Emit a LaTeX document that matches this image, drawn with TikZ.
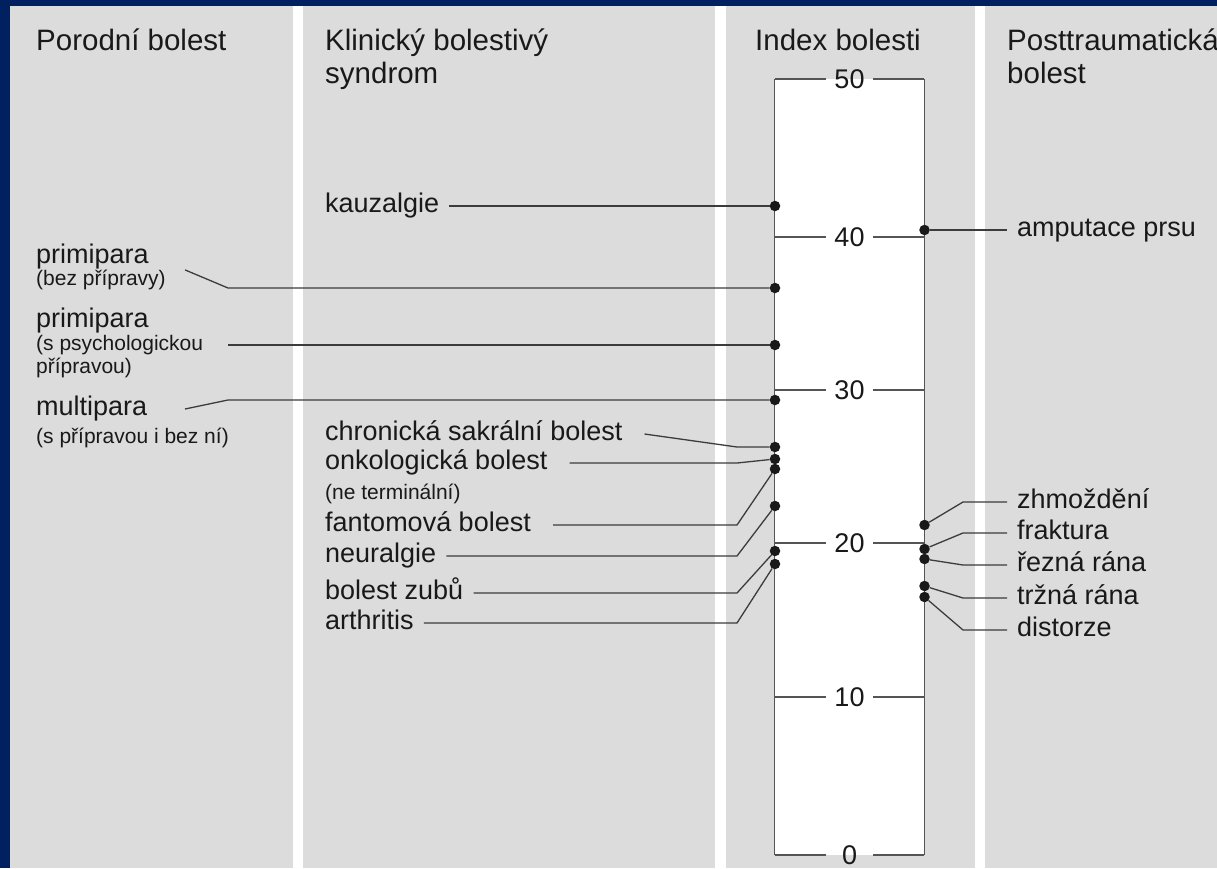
\documentclass[tikz,border=0pt]{standalone}
\usepackage{fontspec}
\setmainfont{Liberation Sans}
\usepackage{tikz}
\usetikzlibrary{calc}
\usetikzlibrary{positioning}

\definecolor{navy}{RGB}{0,32,96}
\definecolor{panel}{RGB}{220,220,220}
\definecolor{ink}{RGB}{25,25,25}
\definecolor{rulegray}{RGB}{85,85,85}

\newcommand\headfont{\fontsize{29.5}{33}\selectfont}
\newcommand\lblfont{\fontsize{27}{30}\selectfont}
\newcommand\notefont{\fontsize{21}{23}\selectfont}

\tikzset{
  head/.style = {
    anchor = north west, inner sep = 0,
    align = left, font = \headfont, text = ink,
  },
  lbl/.style = {
    anchor = west, inner xsep = 10pt, inner ysep = 0,
    text height = 19pt, text depth = 6pt,
    font = \lblfont, text = ink,
  },
  note/.style = {
    anchor = west, inner xsep = 10pt, inner ysep = 0,
    align = left, font = \notefont, text = ink,
  },
  tick/.style = {
    inner sep = 0, minimum width = 47pt,
    text height = 19.3pt, text depth = 0pt,
    font = \lblfont, text = ink,
  },
  dot/.style = {circle, fill = ink, inner sep = 0, minimum size = 10.5pt},
  link/.style = {draw = ink!85, line width = 1.3pt},
  rule/.style = {draw = rulegray, line width = 1.3pt},
}

\begin{document}
\begin{tikzpicture}[x = 1pt, y = -1pt]
  \useasboundingbox (0,0) rectangle (1217,868);
  % Background and columns
  \fill[navy] (0,0) rectangle (1217,868);
  \fill[white] (10,6) rectangle (1217,868);
  \foreach \a/\b in {10/293, 303/715, 726/975, 985/1217}
    \fill[panel] (\a,6) rectangle (\b,868);

  % Column titles
  \node[head] (porod) at (36,28.5) {Porodní bolest};
  \node[head] (klin) at (325,28.5) {Klinický bolestivý\\syndrom};
  \node[head] (index) at (755,28.5) {Index bolesti};
  \node[head] (trauma) at (1007,28.5) {Posttraumatická\\bolest};

  % Scale
  \node[fill = white, inner sep = 0, minimum width = 149pt,
        minimum height = 776pt] (scale) at (849.5,467) {};
  \foreach \v/\ty in {0/855, 10/697, 20/543, 30/390, 40/237, 50/79}
  {
    \node[tick] (t\v) at (849.5,\ty) {\v};
    \draw[rule] (scale.west |- t\v) -- (t\v.west);
    \draw[rule] (t\v.east) -- (scale.east |- t\v);
  }
  \draw[rule] (scale.north west) -- (scale.south west);
  \draw[rule] (scale.north east) -- (scale.south east);

  % Bend points
  \coordinate (pstart) at (185,0);
  \coordinate (pbend) at (228,0);
  \coordinate (lbend) at (737,0);
  \coordinate (rbend) at (963,0);

  % Dots on the left side
  \node[dot] (kauz-d) at (775,206) {};
  \node[dot] (prim1-d) at (775,288) {};
  \node[dot] (prim2-d) at (775,345) {};
  \node[dot] (multi-d) at (775,400) {};
  \node[dot] (chron-d) at (775,447) {};
  \node[dot] (onko-d) at (775,459) {};
  \node[dot] (fant-d) at (775,469) {};
  \node[dot] (neur-d) at (775,506) {};
  \node[dot] (zub-d) at (775,551) {};
  \node[dot] (arth-d) at (775,564) {};

  % Dots on the right side
  \node[dot] (amp-d) at (924.5,230) {};
  \node[dot] (zhm-d) at (924.5,525) {};
  \node[dot] (frak-d) at (924.5,549) {};
  \node[dot] (rez-d) at (924.5,559) {};
  \node[dot] (trz-d) at (924.5,586) {};
  \node[dot] (dist-d) at (924.5,597) {};

  % Porodni bolest
  \node[lbl] (prim1) at (26,257) {primipara};
  \node[note] (prim1n) at (26,280) {(bez přípravy)};
  \node[lbl] (prim2) at (26,321) {primipara};
  \node[note, anchor = north west] (prim2n) at (26,335) {(s psychologickou\\přípravou)};
  \node[lbl] (multi) at (26,409) {multipara};
  \node[note] (multin) at (26,438) {(s přípravou i bez ní)};

  % Klinicky bolestivy syndrom
  \node[lbl] (kauz) at (315,206) {kauzalgie};
  \node[lbl] (chron) at (315,434) {chronická sakrální bolest};
  \node[lbl] (onko) at (315,463) {onkologická bolest};
  \node[note] (onkon) at (315,494) {(ne terminální)};
  \node[lbl] (fant) at (315,525) {fantomová bolest};
  \node[lbl] (neur) at (315,556) {neuralgie};
  \node[lbl] (zub) at (315,593) {bolest zubů};
  \node[lbl] (arth) at (315,623) {arthritis};

  % Posttraumaticka bolest
  \node[lbl] (amp) at (1007,230) {amputace prsu};
  \node[lbl] (zhm) at (1007,502) {zhmoždění};
  \node[lbl] (frak) at (1007,533) {fraktura};
  \node[lbl] (rez) at (1007,565) {řezná rána};
  \node[lbl] (trz) at (1007,598) {tržná rána};
  \node[lbl] (dist) at (1007,630) {distorze};

  % Connectors, left
  \draw[link] (pstart |- prim1n.north) -- (pbend |- prim1-d) -- (prim1-d);
  \draw[link] (pbend |- prim2-d) -- (prim2-d);
  \draw[link] (pstart |- multi.east) -- (pbend |- multi-d) -- (multi-d);
  \draw[link] (kauz.east) -- (kauz-d);
  \draw[link] ($(chron.east)+(12,0)$) -- (lbend |- chron-d) -- (chron-d);
  \draw[link] ($(onko.east)+(12,0)$) -- (lbend |- onko.east) -- (onko-d);
  \draw[link] ($(fant.east)+(12,0)$) -- (lbend |- fant.east) -- (fant-d);
  \draw[link] (neur.east) -- (lbend |- neur.east) -- (neur-d);
  \draw[link] (zub.east) -- (lbend |- zub.east) -- (zub-d);
  \draw[link] (arth.east) -- (lbend |- arth.east) -- (arth-d);

  % Connectors, right
  \draw[link] (amp-d) -- (amp.west);
  \draw[link] (zhm-d) -- (rbend |- zhm.west) -- (zhm.west);
  \draw[link] (frak-d) -- (rbend |- frak.west) -- (frak.west);
  \draw[link] (rez-d) -- (rbend |- rez.west) -- (rez.west);
  \draw[link] (trz-d) -- (rbend |- trz.west) -- (trz.west);
  \draw[link] (dist-d) -- (rbend |- dist.west) -- (dist.west);
\end{tikzpicture}
\end{document}
